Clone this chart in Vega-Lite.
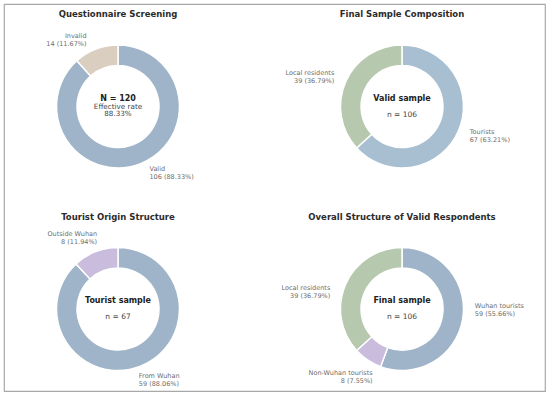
{
  "$schema": "https://vega.github.io/schema/vega-lite/v6.json",
  "width": 550,
  "height": 397,
  "autosize": {"type": "fit", "contains": "padding"},
  "padding": {"left": 4, "top": 4, "right": 5, "bottom": 6},
  "background": "white",
  "config": {"view": {"stroke": "#a8a8a8", "strokeWidth": 1.2}, "font": "DejaVu Sans"},
  "datasets": {
    "slices": [
      {"panel": "p1", "col": 0, "row": 0, "cat": "Valid", "value": 106, "ord": 1, "label": "Valid\n106 (88.33%)"},
      {"panel": "p1", "col": 0, "row": 0, "cat": "Invalid", "value": 14, "ord": 2, "label": "Invalid\n14 (11.67%)"},
      {"panel": "p2", "col": 1, "row": 0, "cat": "Tourists", "value": 67, "ord": 1, "label": "Tourists\n67 (63.21%)"},
      {"panel": "p2", "col": 1, "row": 0, "cat": "Local residents", "value": 39, "ord": 2, "label": "Local residents\n39 (36.79%)"},
      {"panel": "p3", "col": 0, "row": 1, "cat": "From Wuhan", "value": 59, "ord": 1, "label": "From Wuhan\n59 (88.06%)"},
      {"panel": "p3", "col": 0, "row": 1, "cat": "Outside Wuhan", "value": 8, "ord": 2, "label": "Outside Wuhan\n8 (11.94%)"},
      {"panel": "p4", "col": 1, "row": 1, "cat": "Wuhan tourists", "value": 59, "ord": 1, "label": "Wuhan tourists\n59 (55.66%)"},
      {"panel": "p4", "col": 1, "row": 1, "cat": "Non-Wuhan tourists", "value": 8, "ord": 2, "label": "Non-Wuhan tourists\n8 (7.55%)"},
      {"panel": "p4", "col": 1, "row": 1, "cat": "Local residents", "value": 39, "ord": 3, "label": "Local residents\n39 (36.79%)"}
    ],
    "panels": [
      {"panel": "p1", "col": 0, "row": 0, "title": "Questionnaire Screening", "main": "N = 120", "sub": "Effective rate", "sub2": "88.33%"},
      {"panel": "p2", "col": 1, "row": 0, "title": "Final Sample Composition", "main": "Valid sample", "sub": "n = 106", "sub2": ""},
      {"panel": "p3", "col": 0, "row": 1, "title": "Tourist Origin Structure", "main": "Tourist sample", "sub": "n = 67", "sub2": ""},
      {"panel": "p4", "col": 1, "row": 1, "title": "Overall Structure of Valid Respondents", "main": "Final sample", "sub": "n = 106", "sub2": ""}
    ]
  },
  "encoding": {
    "x": {"field": "col", "type": "quantitative", "axis": null, "scale": {"domain": [-0.4014, 1.5035], "nice": false, "zero": false}},
    "y": {"field": "row", "type": "quantitative", "axis": null, "scale": {"domain": [-0.5062, 1.4049], "nice": false, "zero": false, "reverse": true}}
  },
  "layer": [
    {
      "data": {"name": "slices"},
      "transform": [{"filter": "datum.panel == 'p1'"}],
      "mark": {"type": "arc", "outerRadius": 61.5, "innerRadius": 41, "stroke": "white", "strokeWidth": 1.5},
      "encoding": {
        "theta": {"field": "value", "type": "quantitative", "stack": "normalize", "scale": {"domain": [0, 1]}},
        "order": {"field": "ord", "type": "quantitative"},
        "color": {"field": "cat", "type": "nominal", "legend": null,
          "scale": {"domain": ["Valid", "Invalid", "Tourists", "Local residents", "From Wuhan", "Outside Wuhan", "Wuhan tourists", "Non-Wuhan tourists"],
                    "range": ["#9fb4c8", "#d9cebf", "#a8bfd1", "#b6c8ad", "#9fb4c8", "#c9bcdc", "#9fb4c8", "#c9bcdc"]}}
      }
    },
    {
      "data": {"name": "slices"},
      "transform": [{"filter": "datum.panel == 'p2'"}],
      "mark": {"type": "arc", "outerRadius": 61.5, "innerRadius": 41, "stroke": "white", "strokeWidth": 1.5},
      "encoding": {
        "theta": {"field": "value", "type": "quantitative", "stack": "normalize", "scale": {"domain": [0, 1]}},
        "order": {"field": "ord", "type": "quantitative"},
        "color": {"field": "cat", "type": "nominal", "legend": null}
      }
    },
    {
      "data": {"name": "slices"},
      "transform": [{"filter": "datum.panel == 'p3'"}],
      "mark": {"type": "arc", "outerRadius": 61.5, "innerRadius": 41, "stroke": "white", "strokeWidth": 1.5},
      "encoding": {
        "theta": {"field": "value", "type": "quantitative", "stack": "normalize", "scale": {"domain": [0, 1]}},
        "order": {"field": "ord", "type": "quantitative"},
        "color": {"field": "cat", "type": "nominal", "legend": null}
      }
    },
    {
      "data": {"name": "slices"},
      "transform": [{"filter": "datum.panel == 'p4'"}],
      "mark": {"type": "arc", "outerRadius": 61.5, "innerRadius": 41, "stroke": "white", "strokeWidth": 1.5},
      "encoding": {
        "theta": {"field": "value", "type": "quantitative", "stack": "normalize", "scale": {"domain": [0, 1]}},
        "order": {"field": "ord", "type": "quantitative"},
        "color": {"field": "cat", "type": "nominal", "legend": null}
      }
    },
    {
      "data": {"name": "slices"},
      "transform": [{"filter": "datum.panel == 'p1'"}],
      "mark": {"type": "text", "radius": 71, "fontSize": 6.5, "lineBreak": "\n", "lineHeight": 7.8, "color": "#6e6e6e", "fill": "#6e6e6e", "baseline": "middle", "dy": -3.9,
        "align": {"expr": "(datum.value_start + datum.value_end) / 2 > 0.5 ? 'right' : 'left'"},
        "dx": {"expr": "(datum.value_start + datum.value_end) / 2 > 0.5 ? -6 : 6"}},
      "encoding": {
        "theta": {"field": "value", "type": "quantitative", "stack": "normalize"},
        "order": {"field": "ord", "type": "quantitative"},
        "text": {"field": "label"}
      }
    },
    {
      "data": {"name": "slices"},
      "transform": [{"filter": "datum.panel == 'p2'"}],
      "mark": {"type": "text", "radius": 74, "fontSize": 6.5, "lineBreak": "\n", "lineHeight": 7.8, "color": "#6e6e6e", "fill": "#6e6e6e", "baseline": "middle", "dy": -3.9,
        "align": {"expr": "(datum.value_start + datum.value_end) / 2 > 0.5 ? 'right' : 'left'"}},
      "encoding": {
        "theta": {"field": "value", "type": "quantitative", "stack": "normalize"},
        "order": {"field": "ord", "type": "quantitative"},
        "text": {"field": "label"}
      }
    },
    {
      "data": {"name": "slices"},
      "transform": [{"filter": "datum.panel == 'p3'"}],
      "mark": {"type": "text", "radius": 76, "fontSize": 6.5, "lineBreak": "\n", "lineHeight": 7.8, "color": "#6e6e6e", "fill": "#6e6e6e", "baseline": "middle", "dy": -3.9,
        "align": {"expr": "(datum.value_start + datum.value_end) / 2 > 0.5 ? 'right' : 'left'"},
        "dx": {"expr": "(datum.value_start + datum.value_end) / 2 > 0.5 ? 7 : -7"}},
      "encoding": {
        "theta": {"field": "value", "type": "quantitative", "stack": "normalize"},
        "order": {"field": "ord", "type": "quantitative"},
        "text": {"field": "label"}
      }
    },
    {
      "data": {"name": "slices"},
      "transform": [{"filter": "datum.panel == 'p4'"}],
      "mark": {"type": "text", "radius": 74, "fontSize": 6.5, "lineBreak": "\n", "lineHeight": 7.8, "color": "#6e6e6e", "fill": "#6e6e6e", "baseline": "middle",
        "align": {"expr": "(datum.value_start + datum.value_end) / 2 > 0.5 ? 'right' : 'left'"},
        "dx": {"expr": "datum.cat == 'Local residents' ? -4 : datum.cat == 'Non-Wuhan tourists' ? 12 : 0"},
        "dy": {"expr": "datum.cat == 'Wuhan tourists' ? -16 : datum.cat == 'Local residents' ? 9 : 2.6"}},
      "encoding": {
        "theta": {"field": "value", "type": "quantitative", "stack": "normalize"},
        "order": {"field": "ord", "type": "quantitative"},
        "text": {"field": "label"}
      }
    },
    {
      "data": {"name": "panels"},
      "mark": {"type": "text", "dy": -92.5, "fontSize": 8.5, "fontWeight": "bold", "color": "#2b2b2b", "fill": "#2b2b2b", "align": "center", "baseline": "middle"},
      "encoding": {"text": {"field": "title"}}
    },
    {
      "data": {"name": "panels"},
      "mark": {"type": "text", "dy": -8, "fontSize": 8, "fontWeight": "bold", "color": "#222222", "fill": "#222222", "align": "center", "baseline": "middle"},
      "encoding": {"text": {"field": "main"}}
    },
    {
      "data": {"name": "panels"},
      "transform": [{"filter": "datum.panel != 'p1'"}],
      "mark": {"type": "text", "dy": 8, "fontSize": 7.5, "color": "#444444", "fill": "#444444", "align": "center", "baseline": "middle"},
      "encoding": {"text": {"field": "sub"}}
    },
    {
      "data": {"name": "panels"},
      "transform": [{"filter": "datum.panel == 'p1'"}],
      "mark": {"type": "text", "dy": 0, "fontSize": 7.2, "color": "#444444", "fill": "#444444", "align": "center", "baseline": "middle"},
      "encoding": {"text": {"field": "sub"}}
    },
    {
      "data": {"name": "panels"},
      "transform": [{"filter": "datum.panel == 'p1'"}],
      "mark": {"type": "text", "dy": 7.8, "fontSize": 7.2, "color": "#444444", "fill": "#444444", "align": "center", "baseline": "middle"},
      "encoding": {"text": {"field": "sub2"}}
    }
  ]
}
